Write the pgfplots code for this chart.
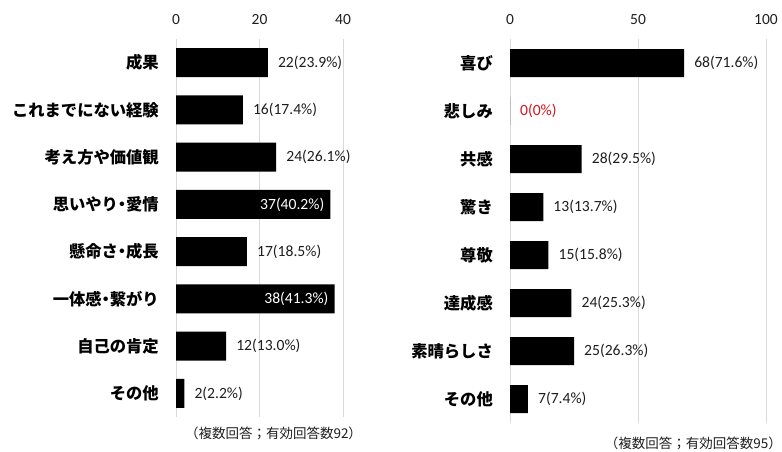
\documentclass[border=0pt]{standalone}
\usepackage{fontspec}
\usepackage{pgfplots}
\usepackage{pgfplotstable}
\pgfplotsset{compat=1.18}
\setmainfont{Carlito}
\newfontfamily\jp{Noto Sans CJK JP}
\newcommand{\nd}{{\addfontfeature{RawFeature=+palt}・}}
\definecolor{gridc}{RGB}{217,217,217}
\definecolor{redlab}{RGB}{210,20,30}
\definecolor{txt}{RGB}{30,30,30}

\pgfplotstableread{
y v label
0 22 {22(23.9\%)}
1 16 {16(17.4\%)}
2 24 {24(26.1\%)}
3 37 {37(40.2\%)}
4 17 {17(18.5\%)}
5 38 {38(41.3\%)}
6 12 {12(13.0\%)}
7 2  {2(2.2\%)}
}\lefttab
\pgfplotstableread{
y v label
0 68 {68(71.6\%)}
1 0  {0(0\%)}
2 28 {28(29.5\%)}
3 13 {13(13.7\%)}
4 15 {15(15.8\%)}
5 24 {24(25.3\%)}
6 25 {25(26.3\%)}
7 7  {7(7.4\%)}
}\righttab

\pgfplotsset{
  mybars/.style={
    scale only axis,
    y dir=reverse,
    ymin=-0.5, ymax=7.5,
    xmin=0,
    xticklabel pos=top,
    axis line style={draw=none},
    major tick length=0pt,
    xmajorgrids,
    grid style={gridc, line width=1pt},
    ytick={0,...,7},
    xticklabel style={font=\fontsize{15.5}{15.5}\selectfont, text=txt, yshift=11pt},
    yticklabel style={font=\fontsize{16.3}{16.3}\selectfont\jp\bfseries, text=black, inner sep=0pt, xshift=-17pt},
    /pgf/number format/assume math mode=true,
    clip=false,
  },
  outlab/.style={only marks, mark=none, nodes near coords, point meta=explicit symbolic,
    every node near coord/.append style={anchor=west, inner sep=0pt, xshift=10pt, font=\fontsize{15.6}{15.6}\selectfont, text=txt}},
  inlab/.style={only marks, mark=none, nodes near coords, point meta=explicit symbolic,
    every node near coord/.append style={anchor=east, inner sep=0pt, xshift=-6pt, font=\fontsize{15.6}{15.6}\selectfont, text=white}},
}

\begin{document}
\begin{tikzpicture}[x=1pt,y=1pt]
\useasboundingbox (0,0) rectangle (782,-451);

\begin{axis}[mybars,
  at={(176pt,-39pt)}, anchor=north west,
  width=167pt, height=378pt,
  xmax=40, xtick={0,20,40},
  yticklabels={成果,これまでにない経験,考え方や価値観,思いやり\nd 愛情,懸命さ\nd 成長,一体感\nd 繋がり,自己の肯定,その他},
]
\addplot[xbar, bar width=29pt, bar shift=0pt, fill=black, draw=none] table[x=v, y=y] {\lefttab};
\addplot[outlab] table[x=v, y=y, meta=label] {
y v label
0 22 {22(23.9\%)}
1 16 {16(17.4\%)}
2 24 {24(26.1\%)}
4 17 {17(18.5\%)}
6 12 {12(13.0\%)}
7 2  {2(2.2\%)}
};
\addplot[inlab] table[x=v, y=y, meta=label] {
y v label
3 37 {37(40.2\%)}
5 38 {38(41.3\%)}
};
\end{axis}

\begin{axis}[mybars,
  at={(510pt,-39pt)}, anchor=north west,
  width=256pt, height=384pt,
  xmax=100, xtick={0,50,100},
  yticklabels={喜び,悲しみ,共感,驚き,尊敬,達成感,素晴らしさ,その他},
]
\addplot[xbar, bar width=28pt, bar shift=0pt, fill=black, draw=none] table[x=v, y=y] {\righttab};
\addplot[outlab] table[x=v, y=y, meta=label] {
y v label
0 68 {68(71.6\%)}
2 28 {28(29.5\%)}
3 13 {13(13.7\%)}
4 15 {15(15.8\%)}
5 24 {24(25.3\%)}
6 25 {25(26.3\%)}
7 7  {7(7.4\%)}
};
\addplot[outlab, every node near coord/.append style={text=redlab}] table[x=v, y=y, meta=label] {
y v label
1 0 {0(0\%)}
};
\end{axis}

\node[font=\fontsize{13.5}{13.5}\selectfont\jp, text=txt, anchor=center] at (273.5,-433) {（複数回答；有効回答数92）};
\node[font=\fontsize{13.5}{13.5}\selectfont\jp, text=txt, anchor=east, inner sep=0pt] at (782,-443) {（複数回答；有効回答数95）};
\end{tikzpicture}
\end{document}
